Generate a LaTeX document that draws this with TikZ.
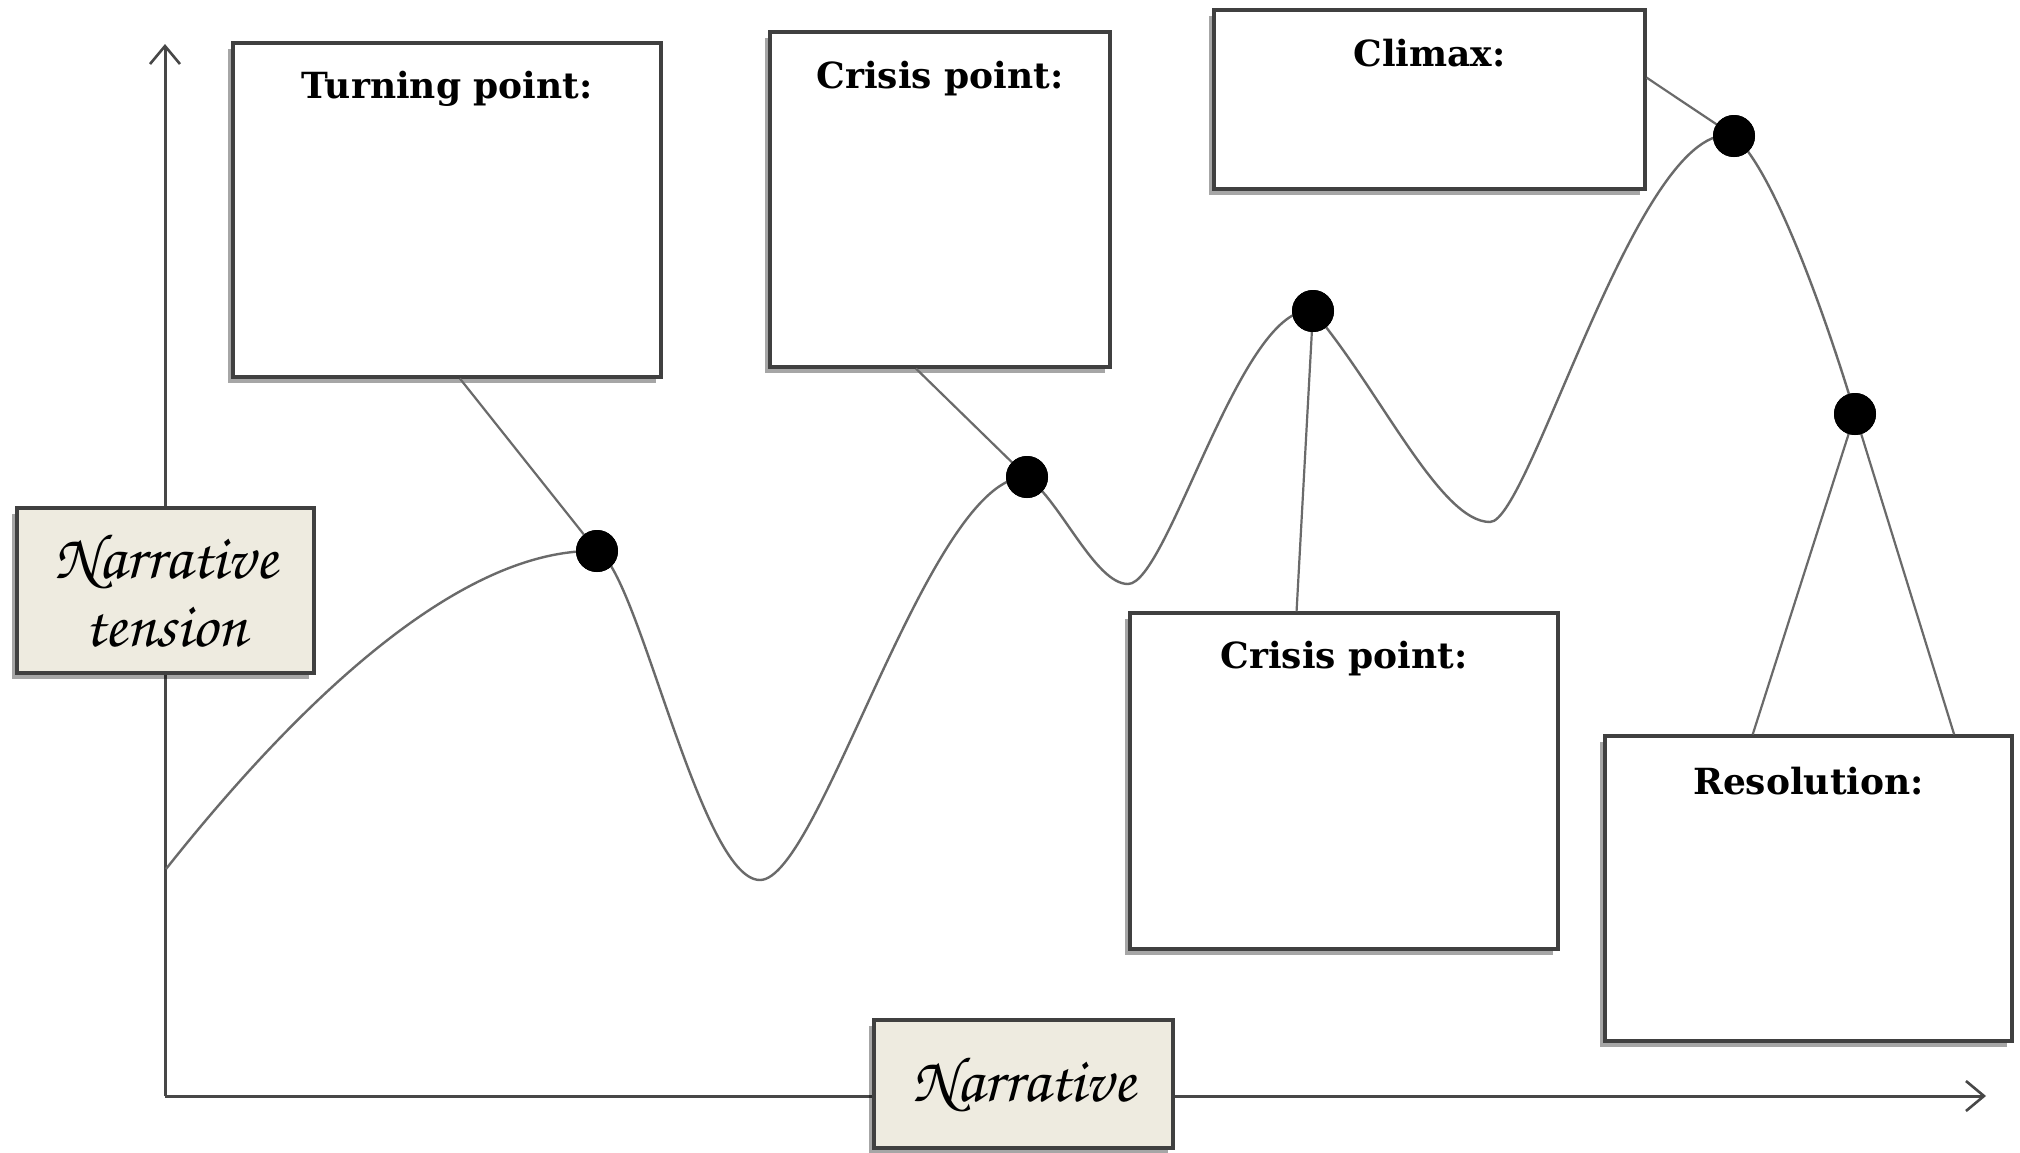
\documentclass[tikz,border=0pt]{standalone}
\usepackage[T1]{fontenc}
\usepackage{fontspec}
\newfontfamily\titlefont{DejaVu Serif}
\newcommand\handfont{\fontencoding{T1}\fontfamily{pzc}\fontseries{mb}\fontshape{it}\selectfont}
\usetikzlibrary{arrows.meta,shadows,calc}
\definecolor{boxgray}{HTML}{404040}
\definecolor{axisgray}{HTML}{474747}
\definecolor{curvegray}{HTML}{6A6A6A}
\definecolor{beige}{HTML}{EEEBE0}
\begin{document}
\begin{tikzpicture}[x=0.5pt,y=-0.5pt,
  boxshadow/.style={drop shadow={shadow xshift=-2.5pt,shadow yshift=-3pt,opacity=0.35,fill=black}},
  whitebox/.style={draw=boxgray,line width=1.6pt,fill=white,inner sep=0pt,boxshadow},
  beigebox/.style={draw=boxgray,line width=1.6pt,fill=beige,inner sep=0pt,boxshadow,align=center,
     font=\handfont\fontsize{32}{34}\selectfont},
  boxtitle/.style={font=\titlefont\bfseries\fontsize{18}{20}\selectfont,anchor=base,inner sep=0pt},
  dot/.style={circle,fill=black,minimum size=21pt,inner sep=0pt},
  curve/.style={draw=curvegray,line width=1.2pt},
  conn/.style={draw=curvegray,line width=1.1pt},
  axis/.style={draw=axisgray,line width=1.5pt,-{Straight Barb[length=9pt,width=15pt,line width=1.3pt]}}
]
\useasboundingbox[fill=white] (0,0) rectangle (2020,1152);

% axes
\coordinate (o) at (165,1096);
\coordinate (ytop) at (165,44);
\coordinate (xend) at (1986,1096);
\draw[axis] (o) -- (ytop);
\draw[axis] (o) -- (xend);

% axis label boxes
\node[beigebox,minimum width=148.5pt,minimum height=82.5pt] (nt) at (165.5,590.5) {Narrative\\tension};
\node[beigebox,minimum width=149.5pt,minimum height=64pt] (nb) at (1023.5,1084) {Narrative};

% text boxes
\node[whitebox,minimum width=214pt,minimum height=167pt] (tp) at (447,210) {};
\node[whitebox,minimum width=170pt,minimum height=167.5pt] (cp1) at (940,199.5) {};
\node[whitebox,minimum width=215.5pt,minimum height=89.5pt] (cl) at (1429.5,99.5) {};
\node[whitebox,minimum width=214pt,minimum height=168pt] (cp2) at (1344,781) {};
\node[whitebox,minimum width=203.5pt,minimum height=152.5pt] (rs) at (1808.5,888.5) {};

% dots (positions)
\coordinate (c0) at (166,869);
\node[dot] (d1) at (597,551) {};
\node[dot] (d2) at (1027,477) {};
\node[dot] (d3) at (1313,311) {};
\node[dot] (d4) at (1734,136) {};
\node[dot] (d5) at (1855,414) {};

% tension curve
\draw[curve] (c0)
  .. controls (316,680) and (470,548) .. (d1.center)
  .. controls (637,566) and (700,880) .. (760,880)
  .. controls (820,880) and (930,474) .. (d2.center)
  .. controls (1060,500) and (1095,584) .. (1128,584)
  .. controls (1168,584) and (1242,300) .. (d3.center)
  .. controls (1380,390) and (1440,522) .. (1490,522)
  .. controls (1530,522) and (1640,115) .. (d4.center)
  .. controls (1775,170) and (1830,330) .. (d5.center);

% connectors
\draw[conn] ($(tp.south west)!0.53!(tp.south east)$) -- (d1.center);
\draw[conn] ($(cp1.south west)!0.43!(cp1.south east)$) -- (d2.center);
\draw[conn] ($(cl.north east)!0.38!(cl.south east)$) -- (d4.center);
\draw[conn] ($(cp2.north west)!0.39!(cp2.north east)$) -- (d3.center);
\draw[conn] ($(rs.north west)!0.364!(rs.north east)$) -- (d5.center);
\draw[conn] ($(rs.north west)!0.855!(rs.north east)$) -- (d5.center);

% redraw dots on top
\foreach \d in {d1,d2,d3,d4,d5} \fill[black] (\d.center) circle (10.5pt);

% titles
\node[boxtitle] (tpt) at ([yshift=-28.5pt]tp.north) {Turning point:};
\node[boxtitle] (cp1t) at ([yshift=-29pt]cp1.north) {Crisis point:};
\node[boxtitle] (clt) at ([yshift=-29pt]cl.north) {Climax:};
\node[boxtitle] (cp2t) at ([yshift=-28.5pt]cp2.north) {Crisis point:};
\node[boxtitle] (rst) at ([yshift=-30pt]rs.north) {Resolution:};
\end{tikzpicture}
\end{document}
